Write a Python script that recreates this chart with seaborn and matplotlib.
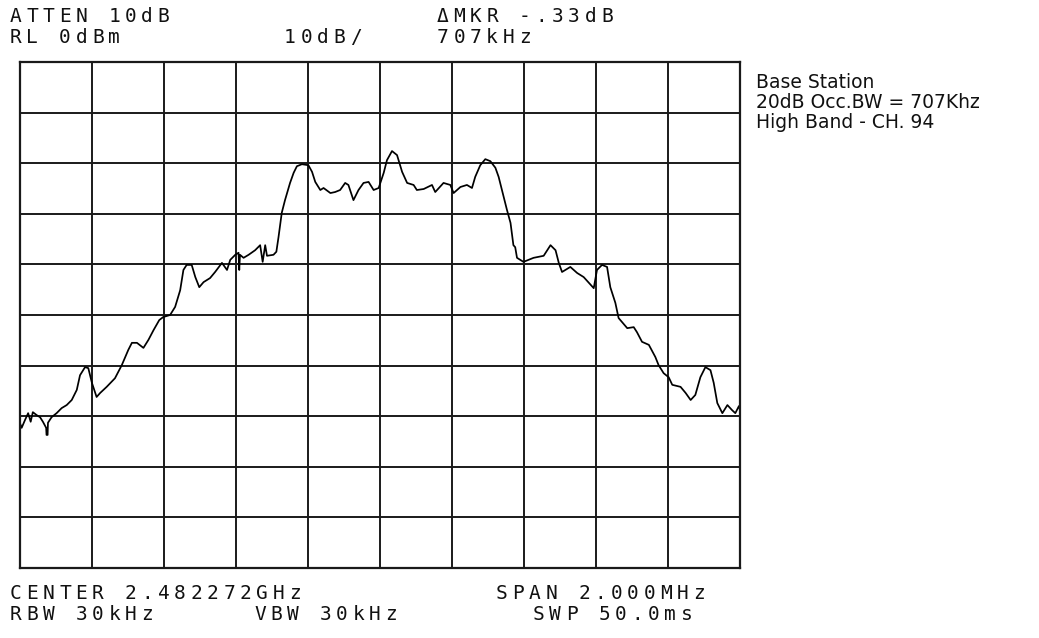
import matplotlib
matplotlib.use("Agg")
import matplotlib.pyplot as plt
import numpy as np
import seaborn as sns

# spectrum analyzer trace
# frequency offset from center [MHz] and level [dBm]
freq_mhz = [
    -0.999, -0.994, -0.985, -0.976, -0.969, -0.963, -0.952, -0.943, -0.935, -0.926,
    -0.925, -0.922, -0.921, -0.911, -0.897, -0.883, -0.869, -0.855, -0.841, -0.832,
    -0.818, -0.809, -0.799, -0.786, -0.776, -0.758, -0.735, -0.716, -0.698, -0.688,
    -0.674, -0.656, -0.642, -0.628, -0.612, -0.601, -0.582, -0.568, -0.554, -0.545,
    -0.536, -0.522, -0.512, -0.501, -0.489, -0.471, -0.457, -0.438, -0.424, -0.415,
    -0.401, -0.392, -0.390, -0.388, -0.378, -0.364, -0.346, -0.332, -0.325, -0.318,
    -0.313, -0.295, -0.287, -0.281, -0.272, -0.263, -0.249, -0.239, -0.230, -0.216,
    -0.198, -0.188, -0.179, -0.165, -0.156, -0.137, -0.124, -0.110, -0.096, -0.087,
    -0.073, -0.059, -0.045, -0.031, -0.017, -0.003, 0.011, 0.020, 0.034, 0.048,
    0.062, 0.076, 0.094, 0.103, 0.122, 0.145, 0.154, 0.177, 0.196, 0.205,
    0.224, 0.242, 0.256, 0.265, 0.279, 0.293, 0.307, 0.321, 0.330, 0.344,
    0.353, 0.363, 0.371, 0.376, 0.381, 0.399, 0.427, 0.455, 0.474, 0.488,
    0.497, 0.506, 0.529, 0.548, 0.566, 0.594, 0.603, 0.617, 0.631, 0.640,
    0.654, 0.663, 0.687, 0.705, 0.714, 0.728, 0.747, 0.765, 0.774, 0.788,
    0.802, 0.812, 0.835, 0.849, 0.863, 0.876, 0.890, 0.904, 0.918, 0.927,
    0.937, 0.951, 0.965, 0.978, 0.987, 0.997, 1.000,
]
level_dbm = [
    -71.3, -72.3, -70.8, -69.4, -71.1, -69.2, -69.8, -70.2, -71.1, -72.3,
    -73.7, -73.7, -71.3, -70.2, -69.4, -68.4, -67.8, -66.8, -64.8, -61.9,
    -60.3, -60.5, -63.4, -66.2, -65.4, -64.2, -62.5, -59.9, -56.9, -55.5,
    -55.5, -56.5, -54.9, -53.0, -51.0, -50.4, -50.0, -48.4, -45.1, -41.1,
    -40.1, -40.1, -42.5, -44.5, -43.5, -42.7, -41.5, -39.7, -41.1, -39.1,
    -38.1, -37.7, -41.1, -38.1, -38.7, -38.1, -37.2, -36.2, -39.5, -36.2,
    -38.3, -38.1, -37.5, -34.6, -29.8, -27.3, -23.9, -21.9, -20.6, -20.2,
    -20.4, -21.7, -23.7, -25.3, -24.9, -25.9, -25.7, -25.3, -23.9, -24.3,
    -27.3, -25.3, -23.9, -23.7, -25.3, -24.9, -21.9, -19.4, -17.6, -18.4,
    -21.7, -23.9, -24.3, -25.3, -25.1, -24.3, -25.7, -23.9, -24.3, -25.9,
    -24.7, -24.3, -24.9, -22.7, -20.4, -19.2, -19.6, -20.9, -22.7, -26.7,
    -29.2, -31.8, -36.2, -36.6, -38.7, -39.5, -38.7, -38.3, -36.2, -37.2,
    -39.7, -41.5, -40.5, -41.7, -42.5, -44.7, -41.1, -40.1, -40.5, -44.5,
    -47.6, -50.6, -52.6, -52.4, -53.4, -55.3, -55.9, -58.3, -59.9, -61.5,
    -62.3, -63.8, -64.2, -65.4, -66.8, -65.8, -62.3, -60.3, -60.9, -63.4,
    -67.4, -69.4, -67.8, -68.8, -69.4, -68.0, -68.8,
]

# instrument annotation text
header_left = ["ATTEN 10dB", "RL 0dBm"]
header_scale = "10dB/"
header_marker = ["\u0394MKR -.33dB", "707kHz"]
footer_left = ["CENTER 2.482272GHz", "RBW 30kHz"]
footer_vbw = "VBW 30kHz"
footer_right = ["SPAN 2.000MHz", "SWP 50.0ms"]
notes = ["Base Station", "20dB Occ.BW = 707Khz", "High Band - CH. 94"]

ref_level = 0
db_per_div = 10
span_mhz = 2.0

W, H = 1039, 638
sns.set_style("white")
fig = plt.figure(figsize=(W / 100, H / 100), dpi=100)
ax = fig.add_axes([19.5 / W, 1 - 568 / H, 720.5 / W, 506 / H])

sns.lineplot(x=freq_mhz, y=level_dbm, ax=ax, color="black", linewidth=1.25,
             sort=False, estimator=None)

ax.set_xlim(-span_mhz / 2, span_mhz / 2)
ax.set_ylim(ref_level - 10 * db_per_div, ref_level)
ax.set_xticks(np.linspace(-span_mhz / 2, span_mhz / 2, 11))
ax.set_yticks(np.arange(ref_level - 10 * db_per_div, ref_level + 1, db_per_div))
ax.set_xticklabels([])
ax.set_yticklabels([])
ax.tick_params(length=0)
ax.grid(True, color="#1a1a1a", linewidth=1.4)
ax.set_axisbelow(True)
for s in ax.spines.values():
    s.set_color("#1a1a1a")
    s.set_linewidth(1.6)
ax.set_xlabel("")
ax.set_ylabel("")


def instr_text(x_px, y_px, s, pitch=16.4):
    # fixed-pitch instrument screen font, one char per cell
    for i, ch in enumerate(s):
        fig.text((x_px + i * pitch) / W, 1 - y_px / H, ch,
                 family="DejaVu Sans Mono", fontsize=14,
                 ha="left", va="baseline", color="#111111")


instr_text(10, 22, header_left[0])
instr_text(10, 43, header_left[1])
instr_text(284, 43, header_scale)
instr_text(437, 22, header_marker[0])
instr_text(437, 43, header_marker[1])
instr_text(10, 599, footer_left[0])
instr_text(10, 620, footer_left[1])
instr_text(254, 620, footer_vbw)
instr_text(496, 599, footer_right[0])
instr_text(533, 620, footer_right[1])

for i, line in enumerate(notes):
    fig.text(756 / W, 1 - (88 + 20 * i) / H, line, family="DejaVu Sans",
             fontsize=13.5, ha="left", va="baseline", color="#111111")

fig.savefig("out.png", dpi=100)
